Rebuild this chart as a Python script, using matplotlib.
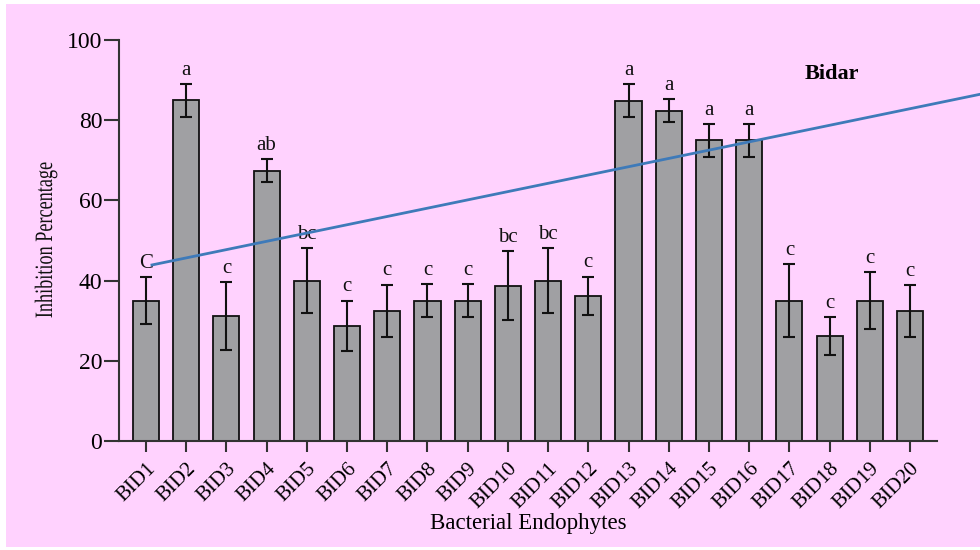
import matplotlib
matplotlib.use("Agg")
import matplotlib.pyplot as plt
from matplotlib.patches import Rectangle, PathPatch
from matplotlib.textpath import TextPath
from matplotlib.font_manager import FontProperties
from matplotlib.transforms import Affine2D

plt.rcParams['font.family'] = ['Liberation Serif', 'DejaVu Serif']

isolates = ["BID%d" % i for i in range(1, 21)]
inhibition = [35.0, 85.0, 31.2, 67.4, 40.0, 28.7, 32.5, 35.0, 35.0, 38.7,
              40.0, 36.2, 84.9, 82.4, 75.0, 75.0, 35.0, 26.2, 35.0, 32.4]
sd = [5.8, 4.1, 8.5, 2.9, 8.2, 6.3, 6.5, 4.2, 4.2, 8.6,
      8.2, 4.8, 4.1, 2.9, 4.1, 4.1, 9.1, 4.8, 7.1, 6.5]
groups = ["C", "a", "c", "ab", "bc", "c", "c", "c", "c", "bc",
          "bc", "c", "a", "a", "a", "a", "c", "c", "c", "c"]

# straight trend line drawn across the plot
trend_x = [0.15, 21.0]
trend_y = [43.9, 87.0]

pink = "#FFD2FE"
fig = plt.figure(figsize=(9.8, 5.5), dpi=100, facecolor="white")
fig.add_artist(Rectangle((6 / 980, 3 / 550), 974 / 980, 543 / 550,
                         transform=fig.transFigure, facecolor=pink,
                         edgecolor="none", zorder=0))

ax = fig.add_axes([119 / 980, 109 / 550, 818 / 980, 401 / 550])
ax.set_facecolor("none")

x = range(len(isolates))
ax.bar(x, inhibition, width=0.65, color="#A0A0A3", edgecolor="#111111",
       linewidth=1.3, zorder=2)
ax.errorbar(x, inhibition, yerr=sd, fmt="none", ecolor="#111111",
            elinewidth=1.5, capsize=4, capthick=1.5, zorder=3)

for xi, v, e, g in zip(x, inhibition, sd, groups):
    ax.annotate(g, (xi, v + e), xytext=(0, 3), textcoords="offset points",
                ha="center", va="bottom", fontsize=15, color="#111111")

ax.plot(trend_x, trend_y, color="#3E7AB9", linewidth=2, clip_on=False, zorder=4)

ax.text(0.872, 0.915, "Bidar", transform=ax.transAxes, fontsize=16,
        fontweight="bold", ha="center", va="center")

ax.set_xlim(-0.67, 19.67)
ax.set_ylim(0, 100)
ax.set_yticks([0, 20, 40, 60, 80, 100])
ax.set_xticks(list(x))
ax.set_xticklabels(isolates, rotation=45, ha="right", rotation_mode="anchor",
                   fontsize=15)
ax.tick_params(axis="y", length=11, width=1.5, pad=1, labelsize=17,
               color="#333333")
ax.tick_params(axis="x", length=8, width=1.5, pad=5, color="#333333")
for side in ("top", "right"):
    ax.spines[side].set_visible(False)
for side in ("left", "bottom"):
    ax.spines[side].set_linewidth(1.5)
    ax.spines[side].set_color("#333333")

ax.set_xlabel("Bacterial Endophytes", fontsize=16.5, labelpad=0.5)

# condensed vertical axis title built from a text path
tp = TextPath((0, 0), "Inhibition Percentage", size=25,
              prop=FontProperties(family="Liberation Serif"))
ext = tp.get_extents()
tr = (Affine2D().translate(-ext.x0 - ext.width / 2, 0)
      .scale(155 / ext.width, 1.0).rotate_deg(90).translate(52, 310))
fig.add_artist(PathPatch(tp, transform=tr, facecolor="#111111",
                         edgecolor="none", lw=0))

fig.savefig("out.png", dpi=100, facecolor="white")
